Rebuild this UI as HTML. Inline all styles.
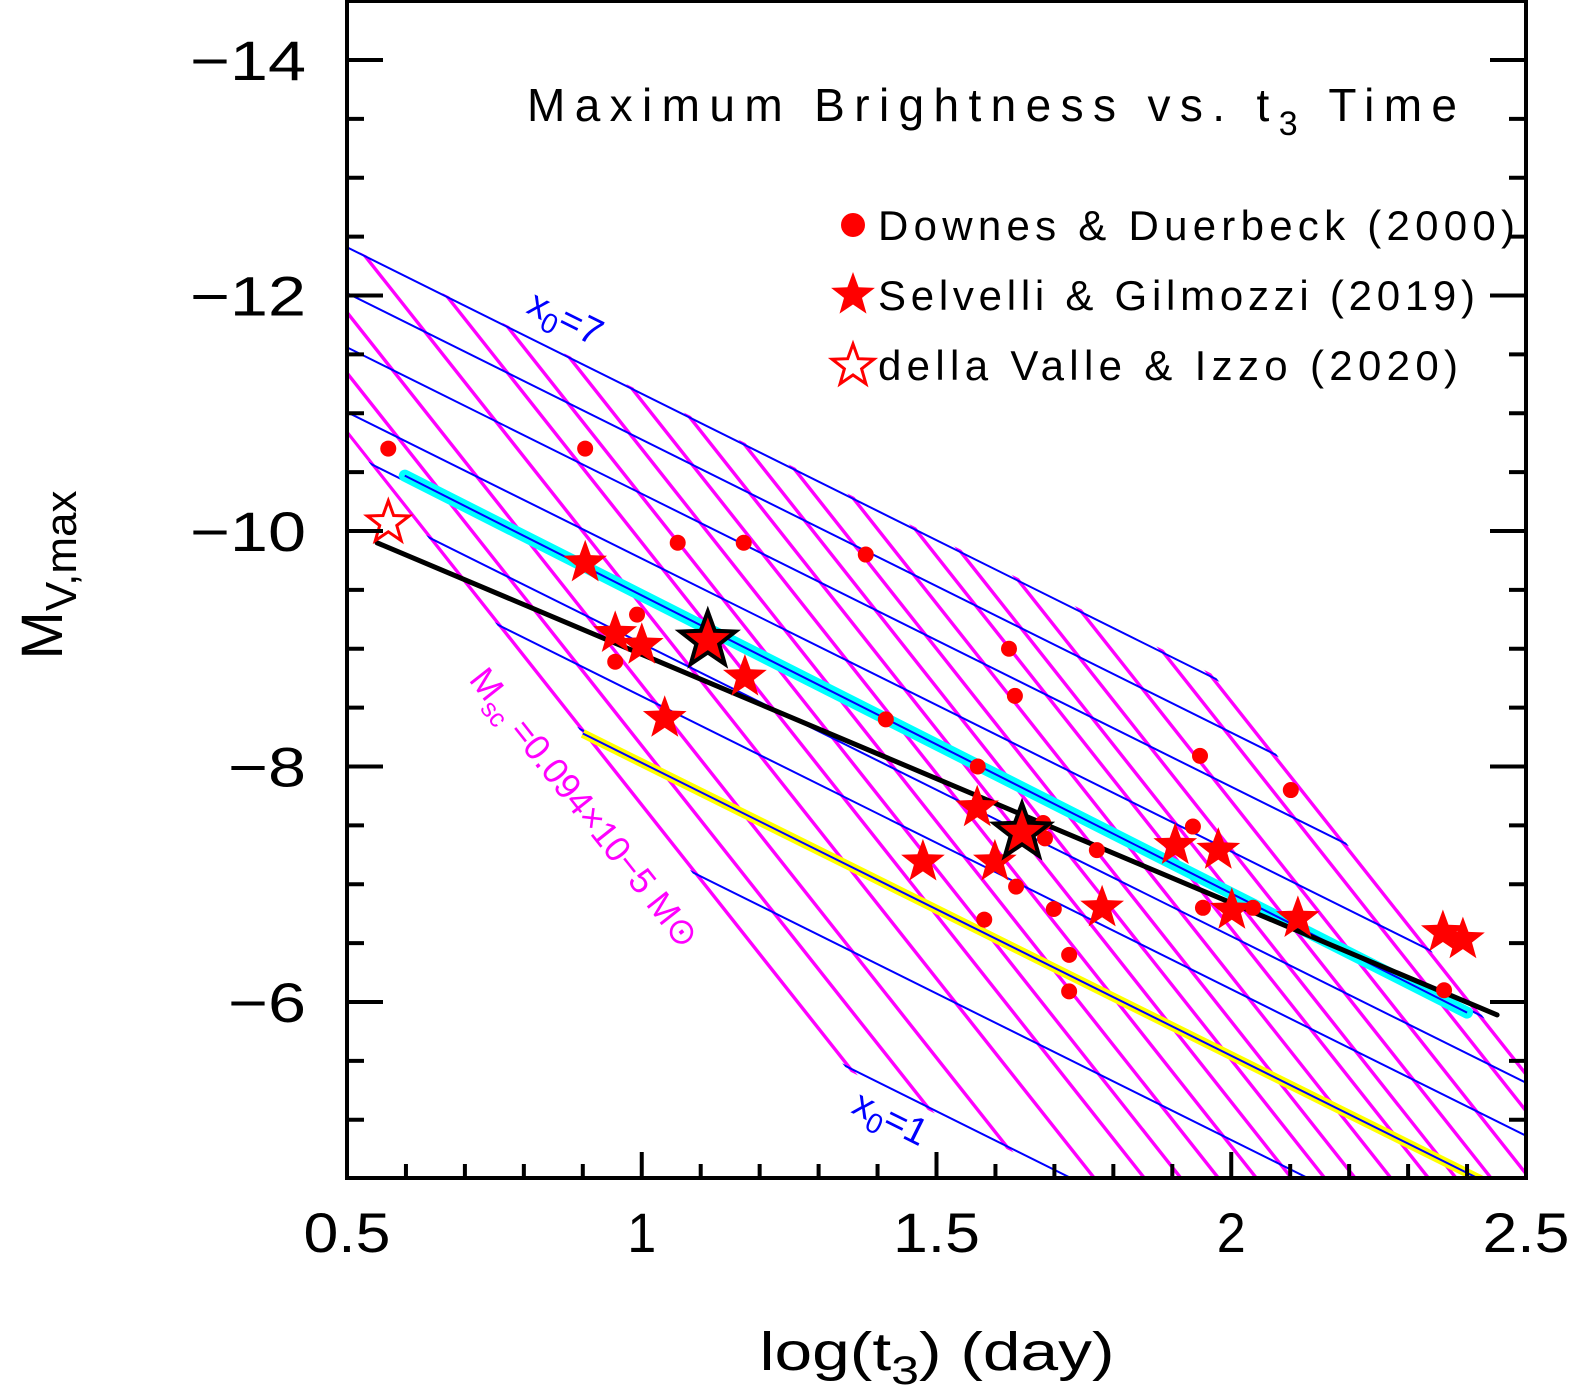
<!DOCTYPE html>
<html><head><meta charset="utf-8"><style>
html,body{margin:0;padding:0;background:#fff;overflow:hidden;width:1570px;height:1393px}
svg{display:block}
text{font-family:"Liberation Sans",sans-serif}
</style></head><body>
<svg id="chart" width="1570" height="1393" viewBox="0 0 1570 1393" xmlns="http://www.w3.org/2000/svg">
<defs>
<clipPath id="plotClip"><rect x="347" y="1" width="1179" height="1177"/></clipPath>
<clipPath id="gridClip"><polygon id="gridPoly" points="0,0"/></clipPath>
</defs>
<g id="gridLayer" clip-path="url(#plotClip)"><g id="gridInner" clip-path="url(#gridClip)"></g></g>
<g id="fitLayer" clip-path="url(#plotClip)"></g>
<g id="pointLayer" clip-path="url(#plotClip)"></g>
<g id="axes"></g>
<text x="527" y="121" font-size="46" textLength="930" lengthAdjust="spacing">Maximum Brightness vs. t<tspan font-size="34" dy="14">3</tspan><tspan dy="-14"> Time</tspan></text>
<g>
<circle cx="853" cy="225" r="12" fill="#ff0000"/>
<text x="878" y="240" font-size="42" textLength="637" lengthAdjust="spacing">Downes &amp; Duerbeck (2000)</text>
<polygon id="legStar1" fill="#ff0000"/>
<text x="878" y="310" font-size="42" textLength="597" lengthAdjust="spacing">Selvelli &amp; Gilmozzi (2019)</text>
<polygon id="legStar2" fill="#fff" stroke="#ff0000" stroke-width="3"/>
<text x="878" y="380" font-size="42" textLength="580" lengthAdjust="spacing">della Valle &amp; Izzo (2020)</text>
</g>
<text x="525" y="312" font-size="38" fill="#0000ff" transform="rotate(26.4 525 312)">x<tspan font-size="28" dy="9">0</tspan><tspan dy="-9">=7</tspan></text>
<text x="850" y="1112" font-size="38" fill="#0000ff" transform="rotate(26.4 850 1112)">x<tspan font-size="28" dy="9">0</tspan><tspan dy="-9">=1</tspan></text>
<text x="468" y="680" font-size="36" fill="#ff00ff" textLength="345" lengthAdjust="spacingAndGlyphs" transform="rotate(51.7 468 680)">M<tspan font-size="26" dy="9">sc</tspan><tspan dy="-9"> =0.094×10−5 M⊙</tspan></text>
<text x="937" y="1370" font-size="54" text-anchor="middle" textLength="355" lengthAdjust="spacingAndGlyphs">log(t<tspan font-size="40" dy="14">3</tspan><tspan dy="-14">) (day)</tspan></text>
<text x="0" y="0" font-size="58" text-anchor="middle" transform="translate(62 575) rotate(-90)">M<tspan font-size="44" dy="14">V,max</tspan></text>
</svg>
<script>
// ---- data ----
const blueIntercepts = [-12.41,-12.02,-11.56,-11.01,-10.67,-10.29,-9.84,-9.30,-8.56,-7.56]; // M at log t = 0.5
const blueSlope = 2.488;
const magentaCross = [0.091,0.222,0.356,0.531,0.671,0.773,0.878,0.984,1.082,1.175,1.260,1.360,1.465,1.542,1.640,1.747,1.886,1.967]; // log t where line meets x0=7
const magentaSlope = 6.33;
const blackFitX = [0.551,2.451], blackFitM = [-9.90,-5.89];
const cyanFitX = [0.598,2.40], cyanFitM = [-10.47,-5.91];
const yellowX = [0.900,2.50], yellowM = [-8.28,-4.30];
const ddX = [0.570,0.904,1.061,1.173,1.380,0.992,0.955,1.623,1.633,1.414,1.570,1.947,2.101,1.935,1.681,1.684,1.772,1.635,1.699,1.581,1.725,1.725,1.952,2.037,2.361];
const ddM = [-10.70,-10.70,-9.90,-9.90,-9.80,-9.29,-8.89,-9.00,-8.60,-8.40,-8.00,-8.09,-7.80,-7.49,-7.52,-7.39,-7.29,-6.98,-6.79,-6.70,-6.40,-6.09,-6.80,-6.80,-6.10];
const sgX = [0.904,0.955,1.000,1.039,1.175,1.569,1.477,1.599,1.781,1.905,1.978,2.001,2.113,2.359,2.393];
const sgM = [-9.73,-9.13,-9.03,-8.41,-8.76,-7.65,-7.19,-7.19,-6.80,-7.33,-7.29,-6.78,-6.71,-6.59,-6.53];
const hlX = [1.112,1.645], hlM = [-9.07,-7.44];
const dvX = [0.570], dvM = [-10.07];
const xTicks = [0.5,1,1.5,2,2.5], xTickLabels = ["0.5","1","1.5","2","2.5"];
const yTicks = [-14,-12,-10,-8,-6], yTickLabels = ["−14","−12","−10","−8","−6"];

const X = v => 347 + (v-0.5)*589.5;
const Y = m => 60 + (m+14)*117.75;
const NS = "http://www.w3.org/2000/svg";
function mk(tag, attrs, parent){const e=document.createElementNS(NS,tag);for(const k in attrs)e.setAttribute(k,attrs[k]);parent.appendChild(e);return e;}
function starPts(cx,cy,R,r){let p=[];for(let i=0;i<10;i++){const a=-Math.PI/2+i*Math.PI/5;const rr=i%2?r:R;p.push((cx+rr*Math.cos(a)).toFixed(1)+","+(cy+rr*Math.sin(a)).toFixed(1));}return p.join(" ");}

// grid
const b1 = blueIntercepts[0], bN = blueIntercepts[blueIntercepts.length-1];
const blueM = (b,x) => b + blueSlope*(x-0.5);
function inter(b, xc){const x = xc + (b-b1)/(magentaSlope-blueSlope);return [x, blueM(b,x)];}
const mL = magentaCross[0], mR = magentaCross[magentaCross.length-1];
const corners = [inter(b1,mL), inter(b1,mR), inter(bN,mR), inter(bN,mL)];
const cx0 = corners.reduce((s,c)=>s+X(c[0]),0)/4, cy0 = corners.reduce((s,c)=>s+Y(c[1]),0)/4;
document.getElementById('gridPoly').setAttribute('points', corners.map(c=>{const px=X(c[0]),py=Y(c[1]);const dx=px-cx0,dy=py-cy0,d=Math.hypot(dx,dy);return (px+dx/d*3).toFixed(1)+","+(py+dy/d*3).toFixed(1);}).join(" "));
const gi = document.getElementById('gridInner');
magentaCross.forEach((xc,i)=>{
  const m0 = blueM(b1,xc);
  const xa = xc-1, xb = xc+1.5;
  const l = mk('line',{x1:X(xa),y1:Y(m0+magentaSlope*(xa-xc)),x2:X(xb),y2:Y(m0+magentaSlope*(xb-xc)),stroke:'#ff00ff','stroke-width':3.4},gi);
  
  
});
blueIntercepts.forEach((b,i)=>{
  const xa=-0.5, xb=3;
  const l = mk('line',{x1:X(xa),y1:Y(blueM(b,xa)),x2:X(xb),y2:Y(blueM(b,xb)),stroke:'#0000ff','stroke-width':2},gi);
  
  
});

// fits
const fl = document.getElementById('fitLayer');
let e;
e = mk('line',{x1:X(yellowX[0]),y1:Y(yellowM[0]),x2:X(yellowX[1]),y2:Y(yellowM[1]),stroke:'#ffff00','stroke-width':9},fl);


e = mk('line',{x1:X(yellowX[0]),y1:Y(yellowM[0]),x2:X(yellowX[1]),y2:Y(yellowM[1]),stroke:'#0000ff','stroke-width':2},fl);


e = mk('line',{x1:X(cyanFitX[0]),y1:Y(cyanFitM[0]),x2:X(cyanFitX[1]),y2:Y(cyanFitM[1]),stroke:'#00ffff','stroke-width':12,'stroke-linecap':'round'},fl);


e = mk('line',{x1:X(cyanFitX[0]),y1:Y(cyanFitM[0]),x2:X(cyanFitX[1]),y2:Y(cyanFitM[1]),stroke:'#0000ff','stroke-width':2},fl);


e = mk('line',{x1:X(blackFitX[0]),y1:Y(blackFitM[0]),x2:X(blackFitX[1]),y2:Y(blackFitM[1]),stroke:'#000','stroke-width':5,'stroke-linecap':'round'},fl);



// points
const pl = document.getElementById('pointLayer');
ddX.forEach((x,i)=>{
  const c = mk('circle',{cx:X(x),cy:Y(ddM[i]),r:8,fill:'#ff0000'},pl);
  
  
});
sgX.forEach((x,i)=>{
  const s = mk('polygon',{points:starPts(X(x),Y(sgM[i]),23,9.5),fill:'#ff0000'},pl);
  
  
});
hlX.forEach((x,i)=>{
  const s = mk('polygon',{points:starPts(X(x),Y(hlM[i]),29,12),fill:'#ff0000',stroke:'#000','stroke-width':4,'stroke-linejoin':'miter'},pl);
  
  
});
dvX.forEach((x,i)=>{
  const s = mk('polygon',{points:starPts(X(x),Y(dvM[i]),22,9),fill:'#fff',stroke:'#ff0000','stroke-width':3},pl);
  
  
});
document.getElementById('legStar1').setAttribute('points', starPts(853,295,23,9.5));
document.getElementById('legStar2').setAttribute('points', starPts(853,366,22,9));

// axes
const ax = document.getElementById('axes');
e = mk('rect',{x:347,y:1,width:1179,height:1177,fill:'none',stroke:'#000','stroke-width':4},ax);


for(let v=0.5; v<=2.501; v+=0.1){
  const major = Math.abs(v*2-Math.round(v*2))<1e-6;
  const L = major?26:14, xx=X(v);
  e = mk('line',{x1:xx,y1:1178,x2:xx,y2:1178-L,stroke:'#000','stroke-width':4},ax);
  
  
}
for(let m=-14.5; m<=-4.49; m+=0.5){
  const major = Math.abs(m/2-Math.round(m/2))<1e-6;
  const L = major?36:17, yy=Y(m);
  if(yy<2||yy>1177) continue;
  e = mk('line',{x1:347,y1:yy,x2:347+L,y2:yy,stroke:'#000','stroke-width':4},ax);
  
  
  e = mk('line',{x1:1526,y1:yy,x2:1526-L,y2:yy,stroke:'#000','stroke-width':4},ax);
  
  
}
xTicks.forEach((v,i)=>{
  const lab = xTickLabels[i];
  const t = mk('text',{x:X(v),y:1252,'font-size':56,'text-anchor':'middle',textLength:lab.length*29,lengthAdjust:'spacingAndGlyphs'},ax);
  t.textContent = lab;
  
  
});
yTicks.forEach((v,i)=>{
  const lab = yTickLabels[i];
  const t = mk('text',{x:306,y:Y(v)+20,'font-size':56,'text-anchor':'end',textLength:lab.length===3?116:78,lengthAdjust:'spacingAndGlyphs'},ax);
  t.textContent = lab;
  
  
});
</script>
</body></html>
